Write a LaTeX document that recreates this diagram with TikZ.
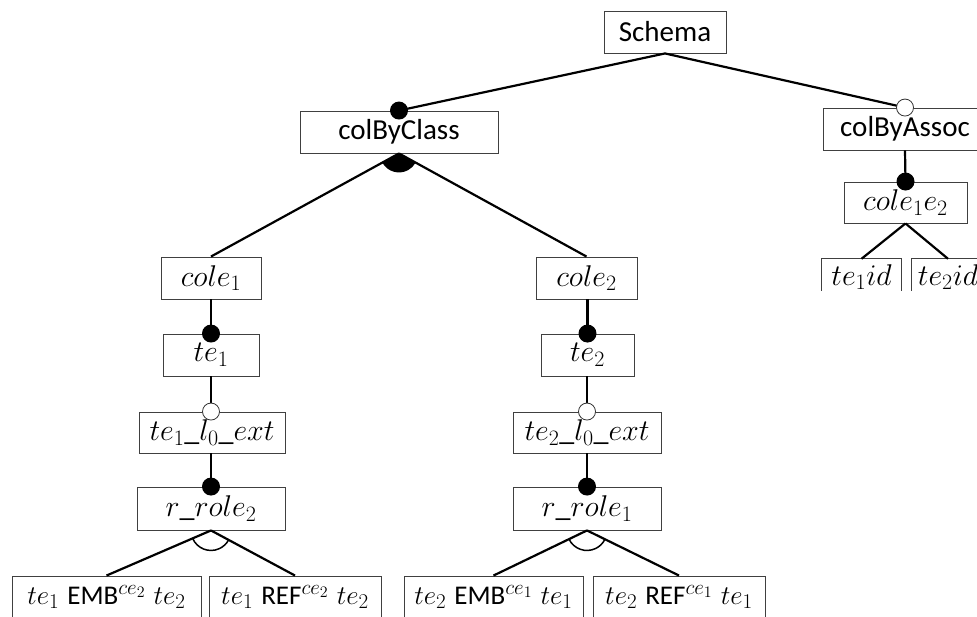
\RequirePackage{fix-cm}
\documentclass[tikz,border=0pt]{standalone}
\usepackage[no-math]{fontspec}
\setmainfont{Carlito}
\usetikzlibrary{calc}
\DeclareMathSizes{30}{30}{22}{16}
\DeclareMathSizes{27}{27}{21}{16}
\newcommand\gapx{\hspace{0.3em}}
\tikzset{
  lbl/.style={inner sep=0pt, font=\fontsize{29}{34}\selectfont},
  mlbl/.style={inner sep=0pt, font=\fontsize{30}{35}\selectfont},
  blbl/.style={inner sep=0pt, font=\fontsize{27}{32}\selectfont},
  boxframe/.style={draw=black!75, line width=0.9pt, minimum height=42pt},
  box/.style={lbl, boxframe},
  mbox/.style={mlbl, boxframe},
  bbox/.style={blbl, boxframe},
  boxline/.style={draw=black!75, line width=0.9pt},
  conn/.style={line width=2.2pt, black},
  fdot/.style={circle, fill=black, inner sep=0pt, minimum size=18pt},
  odot/.style={circle, draw=black!80, fill=white, line width=0.8pt, inner sep=0pt, minimum size=17pt},
  grp/.style={line width=1.5pt, black},
}
\newcommand\grparc[3]{%
  \draw[grp] let \p1=($(#2)-(#1)$), \p2=($(#3)-(#1)$),
    \n1={atan2(\y1,\x1)}, \n2={atan2(\y2,\x2)} in
    ($(#1)+(\n1:20pt)$) arc[start angle=\n1, end angle=\n2, radius=20pt];}
\newcommand\grpsector[3]{%
  \fill[black] let \p1=($(#2)-(#1)$), \p2=($(#3)-(#1)$),
    \n1={atan2(\y1,\x1)}, \n2={atan2(\y2,\x2)} in
    (#1) -- ($(#1)+(\n1:19pt)$) arc[start angle=\n1, end angle=\n2, radius=19pt] -- cycle;}
\begin{document}
\begin{tikzpicture}[x=1pt, y=-1pt]
\useasboundingbox (0,0) rectangle (977,617);
% top
\node[box, minimum width=122pt] (schema) at (665,32) {Schema};
\node[box, minimum width=198pt] (cbc) at (399,132) {colByClass};
\node[box, minimum width=164pt] (cba) at (905,129) {colByAssoc};
\node[mbox, minimum width=123pt, minimum height=41pt] (ce12) at (905.5,202.5) {$cole_1e_2$};
\node[mlbl, minimum width=79pt, minimum height=36pt] (t1id) at (861.5,277) {$te_1id$};
\node[mlbl, minimum width=72pt, minimum height=36pt] (t2id) at (948,277) {$te_2id$};
\draw[boxline] (t1id.north west) ++(0,32) -- (t1id.north west) -- (t1id.north east) -- ++(0,32);
\draw[boxline] (t2id.north west) ++(0,32) -- (t2id.north west) -- (t2id.north east) -- ++(0,32);
% left column
\node[mbox, minimum width=100pt] (c1) at (211,278) {$cole_1$};
\node[mbox, minimum width=96pt] (t1) at (211,355) {$te_1$};
\node[mbox, minimum width=146pt, minimum height=41pt] (t1x) at (212,432.5) {$te_1\_l_0\_ext$};
\node[mbox, minimum width=148pt, minimum height=43pt] (r2) at (211,508.5) {$r\_role_2$};
\node[bbox, minimum width=189pt] (b1) at (106.5,597) {$te_1$\gapx EMB$^{ce_2}$\gapx$te_2$};
\node[bbox, minimum width=172pt] (b2) at (295,597) {$te_1$\gapx REF$^{ce_2}$\gapx$te_2$};
% middle column
\node[mbox, minimum width=101pt] (c2) at (586.5,278) {$cole_2$};
\node[mbox, minimum width=93pt] (t2) at (587.5,355) {$te_2$};
\node[mbox, minimum width=148pt, minimum height=41pt] (t2x) at (587,432.5) {$te_2\_l_0\_ext$};
\node[mbox, minimum width=148pt, minimum height=43pt] (r1) at (587,508.5) {$r\_role_1$};
\node[bbox, minimum width=179pt] (b3) at (493.5,597) {$te_2$\gapx EMB$^{ce_1}$\gapx$te_1$};
\node[bbox, minimum width=172pt] (b4) at (679,597) {$te_2$\gapx REF$^{ce_1}$\gapx$te_1$};
% connectors
\draw[conn] (schema.south) -- (cbc.north);
\draw[conn] (schema.south) -- (cba.north);
\draw[conn] (cba.south) -- (ce12.north);
\draw[conn] (ce12.south) -- (t1id.north);
\draw[conn] (ce12.south) -- (t2id.north);
\draw[conn] (cbc.south) -- (c1.north);
\draw[conn] (cbc.south) -- (c2.north);
\grpsector{cbc.south}{c1.north}{c2.north}
\draw[conn] (c1.south) -- (t1.north);
\draw[conn] (t1.south) -- (t1.south |- t1x.north);
\draw[conn] (t1x.south -| r2.north) -- (r2.north);
\draw[conn] (r2.south) -- (b1.north);
\draw[conn] (r2.south) -- (b2.north);
\grparc{r2.south}{b1.north}{b2.north}
\draw[conn] (c2.south -| t2.north) -- (t2.north);
\draw[conn] (t2.south -| t2x.north) -- (t2x.north);
\draw[conn] (t2x.south) -- (r1.north);
\draw[conn] (r1.south) -- (b3.north);
\draw[conn] (r1.south) -- (b4.north);
\grparc{r1.south}{b3.north}{b4.north}
% markers
\node[fdot] (d1) at (cbc.north) {};
\node[odot] (d2) at (cba.north) {};
\node[fdot] (d3) at (ce12.north) {};
\node[fdot] (d4) at (t1.north) {};
\node[odot] (d5) at (t1.south |- t1x.north) {};
\node[fdot] (d6) at (r2.north) {};
\node[fdot] (d7) at (t2.north) {};
\node[odot] (d8) at (t2x.north) {};
\node[fdot] (d9) at (r1.north) {};
\end{tikzpicture}
\end{document}
